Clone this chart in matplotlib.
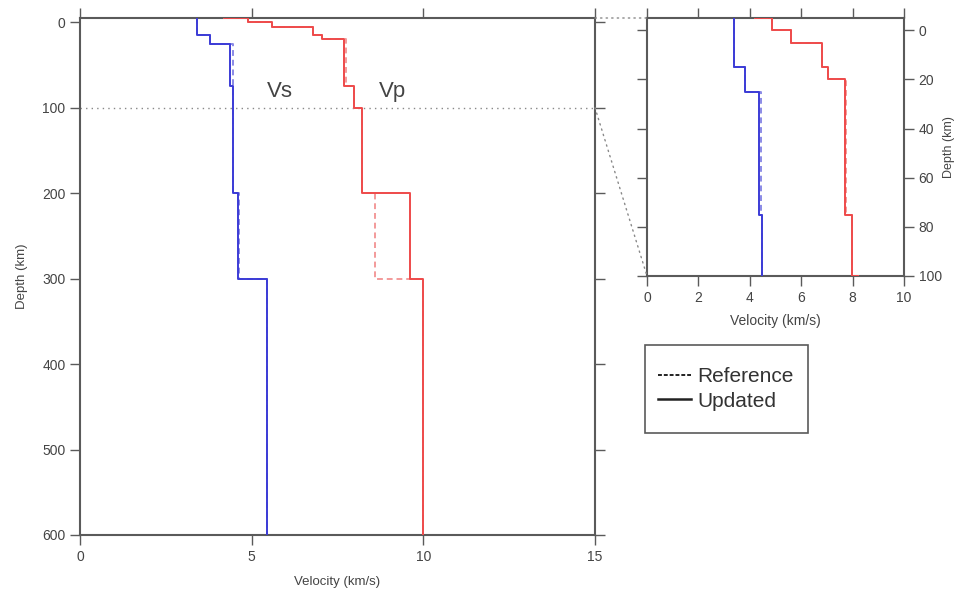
import numpy as np
import matplotlib.pyplot as plt
from matplotlib.patches import ConnectionPatch, Rectangle
from matplotlib.lines import Line2D

plt.rcParams['font.family'] = ['Liberation Sans', 'DejaVu Sans']

# layer tops (km) and velocities (km/s)
vs_tops = [-5, 15, 25, 75, 200, 300]
vs_new = [3.4, 3.8, 4.37, 4.47, 4.6, 5.45]
vs_ref = [3.4, 3.8, 4.45, 4.47, 4.62, 5.45]

vp_tops = [-10, -5, 0, 5, 15, 20, 75, 100, 200, 300]
vp_new = [4.2, 4.88, 5.6, 6.8, 7.05, 7.7, 7.98, 8.22, 9.6, 10.0]
vp_ref = [4.2, 4.88, 5.6, 6.8, 7.05, 7.76, 7.98, 8.22, 8.6, 10.0]

max_depth = 600
zoom_depth = 100


def steps(tops, vals, bottom):
    d = []
    v = []
    for i, val in enumerate(vals):
        bot = tops[i + 1] if i + 1 < len(tops) else bottom
        d += [tops[i], bot]
        v += [val, val]
    return v, d


blue = '#3b3bd6'
red = '#ee4a4a'
blue_l = '#8a8ae6'
red_l = '#f39a9a'
axc = '#5a5a5a'


def draw(ax):
    for tops, ref, new, cl, c in [(vs_tops, vs_ref, vs_new, blue_l, blue),
                                  (vp_tops, vp_ref, vp_new, red_l, red)]:
        x, y = steps(tops, ref, max_depth)
        ax.plot(x, y, color=cl, lw=1.4, ls=(0, (3, 2)), zorder=3)
        x, y = steps(tops, new, max_depth)
        ax.plot(x, y, color=c, lw=1.4, zorder=3)
    for s in ax.spines.values():
        s.set_color(axc)
        s.set_linewidth(1.5)
    ax.tick_params(direction='out', length=7, width=1, color=axc,
                   labelcolor='#444444', labelsize=10,
                   top=True, right=True)


fig = plt.figure(figsize=(9.59, 5.94), dpi=100)

ax = fig.add_axes([80 / 959, 59 / 594, 515 / 959, 517 / 594])
draw(ax)
ax.set_xlim(0, 15)
ax.set_ylim(max_depth, -5)
ax.set_xticks([0, 5, 10, 15])
ax.set_yticks(np.arange(0, 601, 100))
ax.set_xlabel('Velocity (km/s)', fontsize=9.5, color='#444444', labelpad=9)
ax.set_ylabel('Depth (km)', fontsize=9.5, color='#444444', labelpad=10)
ax.axhline(zoom_depth, color='#888888', lw=1, ls=(0, (1, 3)))
ax.text(5.45, 87, 'Vs', fontsize=16, color='#444444')
ax.text(8.7, 87, 'Vp', fontsize=16, color='#444444')

ins = fig.add_axes([647 / 959, 318 / 594, 257 / 959, 258 / 594])
draw(ins)
ins.set_xlim(0, 10)
ins.set_ylim(zoom_depth, -5)
ins.set_xticks(np.arange(0, 11, 2))
ins.set_yticks(np.arange(0, 101, 20))
ins.yaxis.tick_right()
ins.tick_params(left=True, labelleft=False, labelright=True)
ins.yaxis.set_label_position('right')
ins.set_xlabel('Velocity (km/s)', fontsize=10, color='#444444', labelpad=7)
ins.set_ylabel('Depth (km)', fontsize=9, color='#444444', labelpad=1)

for ya, yb in [(-5, -5), (zoom_depth, zoom_depth)]:
    con = ConnectionPatch(xyA=(15, ya), coordsA=ax.transData,
                          xyB=(0, yb), coordsB=ins.transData,
                          color='#888888', lw=1, ls=(0, (1, 3)))
    fig.add_artist(con)

# legend box
fig.add_artist(Rectangle((645 / 959, 1 - 433 / 594), 163 / 959, 88 / 594,
                         transform=fig.transFigure, facecolor='white',
                         edgecolor=axc, lw=1.2))
handles = [Line2D([], [], color='#222222', lw=1.4, ls=(0, (2, 1))),
           Line2D([], [], color='#222222', lw=1.8)]
leg = fig.legend(handles, ['Reference', 'Updated'], loc='center',
                 bbox_to_anchor=(726 / 959, 1 - 389 / 594), fontsize=15,
                 frameon=False, handlelength=1.6,
                 handletextpad=0.3, labelspacing=0.25)
for t in leg.get_texts():
    t.set_color('#333333')

fig.savefig('out.png', dpi=100)
